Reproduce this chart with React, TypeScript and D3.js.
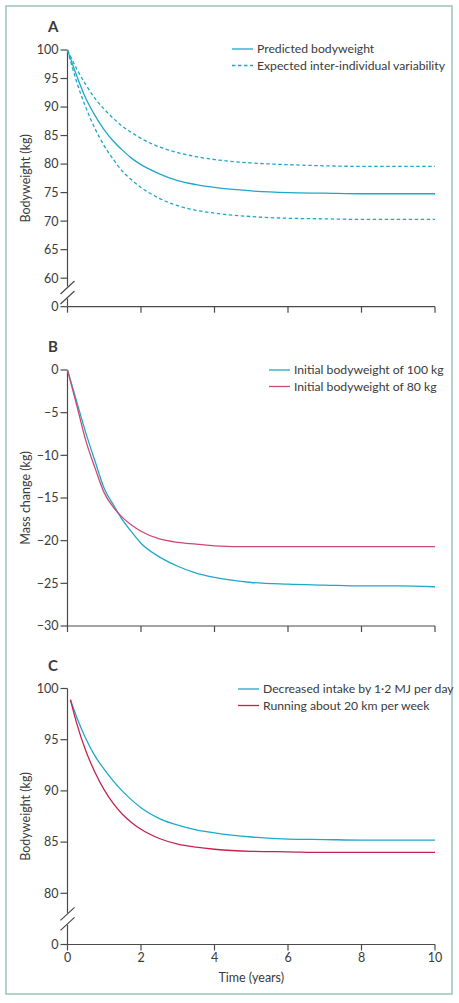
import React from "react";
import * as d3 from "d3";

// ---------- DATA ----------
const timeA = [0, 0.25, 0.5, 0.75, 1, 1.25, 1.5, 1.75, 2, 2.5, 3, 3.5, 4, 5, 6, 7, 8, 9, 10];
const predicted = [100, 95.5, 91.5, 88.5, 86.0, 84.0, 82.4, 81.0, 79.9, 78.3, 77.1, 76.4, 75.9, 75.3, 75.0, 74.9, 74.8, 74.8, 74.8];
const upperVar = [100, 96.7, 93.9, 91.5, 89.6, 88.0, 86.6, 85.5, 84.5, 83.0, 82.0, 81.3, 80.8, 80.2, 79.9, 79.7, 79.6, 79.6, 79.6];
const lowerVar = [100, 94.4, 89.9, 86.2, 83.2, 80.8, 78.7, 77.2, 75.9, 74.0, 72.7, 71.9, 71.4, 70.8, 70.5, 70.4, 70.3, 70.3, 70.3];

const timeB = [0, 0.25, 0.5, 0.75, 1, 1.25, 1.5, 1.75, 2, 2.5, 3, 3.5, 4, 5, 6, 7, 8, 9, 10];
const change100 = [0, -3.7, -7.4, -10.7, -13.9, -15.8, -17.6, -19.0, -20.3, -21.9, -23.0, -23.8, -24.3, -24.9, -25.1, -25.2, -25.3, -25.3, -25.4];
const change80 = [0, -4.1, -8.3, -11.5, -14.4, -16.1, -17.3, -18.2, -18.9, -19.8, -20.2, -20.4, -20.6, -20.7, -20.7, -20.7, -20.7, -20.7, -20.7];

const timeC = [0.08, 0.25, 0.5, 0.75, 1, 1.25, 1.5, 1.75, 2, 2.5, 3, 3.5, 4, 5, 6, 7, 8, 9, 10];
const intakeCut = [98.9, 97.2, 95.1, 93.4, 92.1, 90.95, 89.95, 89.1, 88.35, 87.3, 86.65, 86.2, 85.9, 85.5, 85.3, 85.25, 85.2, 85.2, 85.2];
const running = [98.9, 96.6, 93.9, 91.8, 90.1, 88.75, 87.7, 86.9, 86.25, 85.35, 84.8, 84.5, 84.3, 84.1, 84.05, 84.0, 84.0, 84.0, 84.0];

const xTicks = [0, 2, 4, 6, 8, 10];
const yTicksA = [60, 65, 70, 75, 80, 85, 90, 95, 100];
const yTicksB = [-30, -25, -20, -15, -10, -5, 0];
const yTicksC = [80, 85, 90, 95, 100];

const legendA = ["Predicted bodyweight", "Expected inter-individual variability"];
const legendB = ["Initial bodyweight of 100 kg", "Initial bodyweight of 80 kg"];
const legendC = ["Decreased intake by 1\u00b72 MJ per day", "Running about 20 km per week"];

// ---------- STYLE ----------
const FONT = "Lato, 'Open Sans', sans-serif";
const TEXT = "#3a3a3a";
const AXIS = "#4a4a4a";
const CYAN = "#1ea8c8";
const RED_B = "#cc4a72";
const RED_C = "#c6224f";

const X0 = 67.5;
const X1 = 435;
const x = d3.scaleLinear().domain([0, 10]).range([X0, X1]);

type Series = { t: number[]; v: number[]; color: string; dash?: string };

function Panel(props: {
  letter: string;
  top: number;
  bottom: number;
  domain: [number, number];
  ticks: number[];
  breakAt?: number;
  yLabel: string;
  series: Series[];
  legend: { text: string; color: string; dash?: string }[];
  legendX: number;
  legendY: number;
  showXLabels: boolean;
}) {
  const { top, bottom, domain, ticks, breakAt } = props;
  const y = d3.scaleLinear().domain(domain).range([bottom, top]);
  const line = d3
    .line<[number, number]>()
    .x((d) => x(d[0]))
    .y((d) => y(d[1]))
    .curve(d3.curveMonotoneX);
  const axisBottom = y(domain[0]);
  const hasBreak = breakAt !== undefined;
  const lowestTick = ticks[0];
  const brkMid = hasBreak ? (y(lowestTick) + axisBottom) / 2 : 0;

  return (
    <g>
      <text x={48} y={top - 18} fontFamily={FONT} fontWeight={700} fontSize={15} fill={TEXT}>
        {props.letter}
      </text>
      {hasBreak ? (
        <g stroke={AXIS} strokeWidth={1.2}>
          <line x1={X0} x2={X0} y1={y(domain[1])} y2={brkMid - 6} />
          <line x1={X0} x2={X0} y1={brkMid + 6} y2={axisBottom} />
          <line x1={X0 - 7} x2={X0 + 7} y1={brkMid - 5 + 6.5} y2={brkMid - 5 - 6.5} />
          <line x1={X0 - 7} x2={X0 + 7} y1={brkMid + 5 + 6.5} y2={brkMid + 5 - 6.5} />
        </g>
      ) : (
        <line x1={X0} x2={X0} y1={y(domain[1])} y2={axisBottom} stroke={AXIS} strokeWidth={1.2} />
      )}
      {ticks.map((t) => (
        <g key={t}>
          <line x1={X0 - 7} x2={X0} y1={y(t)} y2={y(t)} stroke={AXIS} strokeWidth={1.2} />
          <text
            x={X0 - 9}
            y={y(t)}
            dy="0.35em"
            textAnchor="end"
            fontFamily={FONT}
            fontSize={12.5}
            fill={TEXT}
          >
            {t < 0 ? "\u2212" + Math.abs(t) : t}
          </text>
        </g>
      ))}
      {hasBreak && (
        <g>
          <line x1={X0 - 7} x2={X0} y1={axisBottom} y2={axisBottom} stroke={AXIS} strokeWidth={1.2} />
          <text
            x={X0 - 9}
            y={axisBottom}
            dy="0.35em"
            textAnchor="end"
            fontFamily={FONT}
            fontSize={12.5}
            fill={TEXT}
          >
            0
          </text>
        </g>
      )}
      <text
        transform={`translate(${30},${(top + bottom) / 2}) rotate(-90)`}
        textAnchor="middle"
        fontFamily={FONT}
        fontSize={12.5}
        fill={TEXT}
      >
        {props.yLabel}
      </text>
      <line x1={X0} x2={X1} y1={axisBottom} y2={axisBottom} stroke={AXIS} strokeWidth={1.2} />
      {xTicks.map((t) => (
        <g key={t}>
          <line x1={x(t)} x2={x(t)} y1={axisBottom} y2={axisBottom + 6} stroke={AXIS} strokeWidth={1.2} />
          {props.showXLabels && (
            <text
              x={x(t)}
              y={axisBottom + 17}
              textAnchor="middle"
              fontFamily={FONT}
              fontSize={12.5}
              fill={TEXT}
            >
              {t}
            </text>
          )}
        </g>
      ))}
      {props.showXLabels && (
        <text
          x={(X0 + X1) / 2}
          y={axisBottom + 37}
          textAnchor="middle"
          fontFamily={FONT}
          fontSize={12.5}
          fill={TEXT}
        >
          Time (years)
        </text>
      )}
      {props.series.map((s, i) => (
        <path
          key={i}
          d={line(s.t.map((t, j) => [t, s.v[j]] as [number, number])) || ""}
          fill="none"
          stroke={s.color}
          strokeWidth={1.3}
          strokeDasharray={s.dash}
        />
      ))}
      {props.legend.map((l, i) => (
        <g key={i}>
          <line
            x1={props.legendX}
            x2={props.legendX + 21}
            y1={props.legendY + i * 16.5}
            y2={props.legendY + i * 16.5}
            stroke={l.color}
            strokeWidth={1.3}
            strokeDasharray={l.dash}
          />
          <text
            x={props.legendX + 25}
            y={props.legendY + i * 16.5}
            dy="0.35em"
            fontFamily={FONT}
            fontSize={12.2}
            fill={TEXT}
          >
            {l.text}
          </text>
        </g>
      ))}
    </g>
  );
}

export default function App() {
  return (
    <svg
      width={459}
      height={1003}
      style={{ position: "absolute", left: 0, top: 0, background: "#fff" }}
    >
      <rect x={6} y={6} width={446} height={988} fill="#fff" stroke="#8db8ae" strokeWidth={1.3} />
      <Panel
        letter="A"
        top={50}
        bottom={306.7}
        domain={[55, 100]}
        ticks={yTicksA}
        breakAt={0}
        yLabel="Bodyweight (kg)"
        series={[
          { t: timeA, v: upperVar, color: CYAN, dash: "3.5 2.5" },
          { t: timeA, v: lowerVar, color: CYAN, dash: "3.5 2.5" },
          { t: timeA, v: predicted, color: CYAN },
        ]}
        legend={[
          { text: legendA[0], color: CYAN },
          { text: legendA[1], color: CYAN, dash: "3.5 2.5" },
        ]}
        legendX={232}
        legendY={49}
        showXLabels={false}
      />
      <Panel
        letter="B"
        top={370}
        bottom={626}
        domain={[-30, 0]}
        ticks={yTicksB}
        yLabel="Mass change (kg)"
        series={[
          { t: timeB, v: change100, color: CYAN },
          { t: timeB, v: change80, color: RED_B },
        ]}
        legend={[
          { text: legendB[0], color: CYAN },
          { text: legendB[1], color: RED_B },
        ]}
        legendX={269}
        legendY={370}
        showXLabels={false}
      />
      <Panel
        letter="C"
        top={688.5}
        bottom={944.5}
        domain={[75, 100]}
        ticks={yTicksC}
        breakAt={0}
        yLabel="Bodyweight (kg)"
        series={[
          { t: timeC, v: intakeCut, color: CYAN },
          { t: timeC, v: running, color: RED_C },
        ]}
        legend={[
          { text: legendC[0], color: CYAN },
          { text: legendC[1], color: RED_C },
        ]}
        legendX={238}
        legendY={689}
        showXLabels={true}
      />
    </svg>
  );
}
